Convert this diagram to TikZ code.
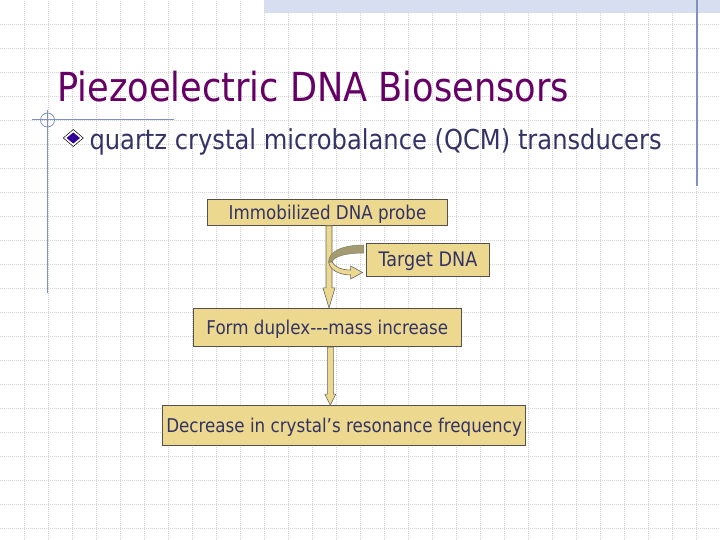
\documentclass[tikz,border=0pt]{standalone}
\usepackage{fontspec}
\setmainfont{DejaVu Sans}[FakeStretch=0.88]
\usetikzlibrary{calc}
\definecolor{titlec}{RGB}{102,0,102}
\definecolor{bodyc}{RGB}{51,51,102}
\definecolor{boxfill}{RGB}{236,216,142}
\definecolor{boxline}{RGB}{85,80,75}
\definecolor{gridc}{RGB}{212,212,212}
\definecolor{accent}{RGB}{128,144,192}
\definecolor{bandc}{RGB}{214,222,240}
\definecolor{darkband}{RGB}{165,155,115}
\definecolor{bulletc}{RGB}{51,0,153}
\begin{document}
\begin{tikzpicture}[x=1pt,y=1pt,
  gridline/.style={draw=gridc, line width=0.6pt, dash pattern=on 1pt off 1pt},
  accentline/.style={draw=accent, line width=1.1pt},
  flowbox/.style={draw=boxline, line width=0.8pt, fill=boxfill, text=bodyc,
    font=\fontsize{19}{22}\selectfont, inner sep=0pt, text height=14pt, text depth=0pt},
  fatarrow/.style={draw=gray!80!black, fill=boxfill, line width=0.6pt},
  backband/.style={draw=darkband!80!black, fill=darkband, line width=0.5pt}]
\useasboundingbox (0,0) rectangle (720,540);
\fill[white] (0,0) rectangle (720,540);
% grid
\foreach \i in {1,...,29} \draw[gridline] (24*\i,0) -- (24*\i,540);
\foreach \j in {1,...,22} \draw[gridline] (0,540-24*\j) -- (720,540-24*\j);
% top band
\fill[bandc] (264,527.3) rectangle (720,540);
% accent lines
\draw[accentline] (697,540) -- (697,354);
\draw[accentline] (47.5,430) -- (47.5,247);
\draw[accentline] (32,420.7) -- (174,420.7);
\draw[draw=accent, line width=0.8pt] (47.5,420) circle (7);
% title
\node[anchor=base west, inner sep=0pt, text=titlec, font=\fontsize{40}{46}\selectfont] (title) at (57,438.3) {Piezoelectric DNA Biosensors};
% bullet
\draw[black, fill=white, line width=0.5pt] (73.3,410.5) -- (83.3,402) -- (73.3,393.5) -- (63.3,402) -- cycle;
\fill[bulletc] (73.3,407.5) -- (80,402) -- (73.3,396.5) -- (66.6,402) -- cycle;
\node[anchor=base west, inner sep=0pt, text=bodyc, font=\fontsize{27.5}{32}\selectfont] (bullet) at (89.3,390.7) {quartz crystal microbalance (QCM) transducers};
% boxes
\node[flowbox, minimum width=239.6pt, minimum height=26.3pt] (probe) at (327.5,327.8) {Immobilized DNA probe};
\node[flowbox, minimum width=122.6pt, minimum height=32.7pt, font=\fontsize{20}{24}\selectfont, text height=14.6pt] (target) at (428,280.3) {Target DNA};
\node[flowbox, minimum width=268.4pt, minimum height=38.4pt] (duplex) at (327.3,212.5) {Form duplex-{}-{}-mass increase};
\node[flowbox, minimum width=362.8pt, minimum height=39.5pt] (decrease) at (344.1,114.7) {Decrease in crystal’s resonance frequency};
% straight arrows
\draw[fatarrow] let \p1=(probe.south), \p2=(duplex.north) in
  (\x1-1.5,\y1) -- (\x1+4.5,\y1) -- (\x1+4.5,\y2+20) -- (\x1+7.5,\y2+20) -- (\x1+1.5,\y2)
  -- (\x1-4.5,\y2+20) -- (\x1-1.5,\y2+20) -- cycle;
\draw[fatarrow] let \p1=(duplex.south), \p2=(decrease.north) in
  (\x1,\y1) -- (\x1+6,\y1) -- (\x1+6,\y2+11) -- (\x1+8.5,\y2+11) -- (\x1+3,\y2)
  -- (\x1-2.5,\y2+11) -- (\x1,\y2+11) -- cycle;
% curved arrow from target
\begin{scope}[shift={(target.west)}]
\draw[backband] (-2.7,14.7) .. controls (-22.7,14.7) and (-37.7,8.7) .. (-37.7,-2.3)
  -- (-34.2,-2.3) .. controls (-32.7,3.7) and (-18.7,6.7) .. (-2.7,6.7) -- cycle;
\draw[fatarrow] (-37.7,-2.3) .. controls (-36.7,-10.3) and (-26.7,-15.3) .. (-15.7,-15.3)
  -- (-15.7,-19.3) -- (-3.7,-12.8) -- (-15.7,-6.3) -- (-15.7,-10.3)
  .. controls (-24.7,-10.3) and (-31.7,-7.3) .. (-34.2,-2.3) -- cycle;
\end{scope}
\end{tikzpicture}
\end{document}
